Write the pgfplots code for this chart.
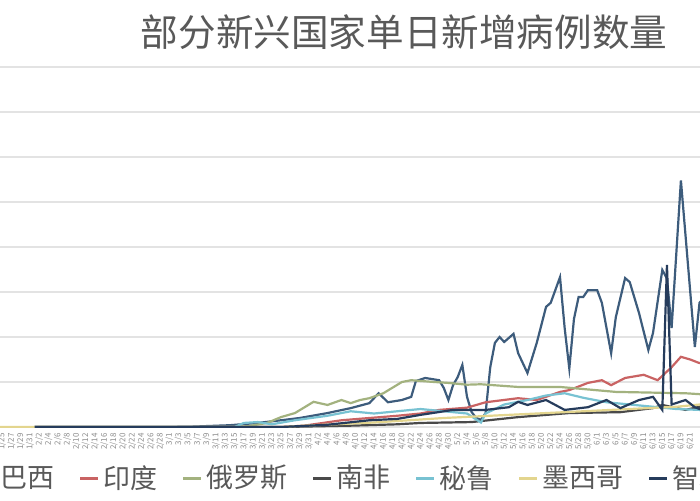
\documentclass[border=0pt]{standalone}
\usepackage{fontspec}
\usepackage{pgfplots}
\pgfplotsset{compat=1.18}
\setmainfont{Noto Sans CJK SC}
\definecolor{cBR}{HTML}{3D5C7C}
\definecolor{cIN}{HTML}{C96363}
\definecolor{cRU}{HTML}{A3B27F}
\definecolor{cZA}{HTML}{4A4A4A}
\definecolor{cPE}{HTML}{78C2D2}
\definecolor{cMX}{HTML}{E3D58E}
\definecolor{cCL}{HTML}{263C5C}
\definecolor{gridc}{HTML}{E3E3E3}
\definecolor{txtc}{HTML}{595959}
\definecolor{tickc}{HTML}{8C8C8C}
\begin{document}
\begin{tikzpicture}
\useasboundingbox (0,0) rectangle (350pt,250pt);
\clip (0,0) rectangle (350pt,250pt);
\begin{axis}[
  at={(-22.25pt,36.5pt)}, anchor=south west,
  scale only axis, width=395.25pt, height=180pt,
  xmin=-10, xmax=160, ymin=0, ymax=80000,
  ytick={0,10000,...,80000}, yticklabels={}, scaled y ticks=false,
  ymajorgrids, major grid style={draw=gridc, line width=0.8pt},
  axis line style={draw=none}, tick style={draw=none},
  xtick={0,2,...,148},
  xticklabels={1/25,1/27,1/29,1/31,
    2/2,2/4,2/6,2/8,2/10,2/12,2/14,2/16,2/18,2/20,2/22,2/24,2/26,2/28,
    3/1,3/3,3/5,3/7,3/9,3/11,3/13,3/15,3/17,3/19,3/21,3/23,3/25,3/27,3/29,3/31,
    4/2,4/4,4/6,4/8,4/10,4/12,4/14,4/16,4/18,4/20,4/22,4/24,4/26,4/28,4/30,
    5/2,5/4,5/6,5/8,5/10,5/12,5/14,5/16,5/18,5/20,5/22,5/24,5/26,5/28,5/30,
    6/1,6/3,6/5,6/7,6/9,6/11,6/13,6/15,6/17,6/19,6/21},
  xticklabel shift=2pt,
  xticklabel style={rotate=90, anchor=east, font=\fontsize{4}{4}\selectfont, text=tickc, inner sep=1pt},
  every axis plot/.append style={line width=1.1pt, no markers},
  legend image code/.code={\draw[#1,line width=1.5pt] (0pt,0pt) -- (9pt,0pt);},
  legend style={at={(0.503,-0.142)}, anchor=center, draw=none, fill=none,
    font=\fontsize{13.5}{15}\selectfont, text=txtc, legend columns=-1,
    /tikz/every even column/.append style={column sep=10pt}},
]
% 巴西
\addplot[cBR] coordinates {(7,0) (32,0) (40,50) (49,400) (55,900) (60,1500) (64,2000) (70,3100) (75,4200) (79,5300) (81,7500) (83,5500) (86,6000) (88,6700) (89,10200) (91,10900) (94,10400) (95,8700) (96,6000) (97,9300) (98,11100) (99,13800) (100,6700) (101,3300) (102,2000) (103,1600) (104,3100) (105,13300) (106,18700) (107,20000) (108,18900) (110,20700) (111,16400) (113,12000) (115,18700) (117,26700) (118,27600) (120,33300) (121,22000) (122,13000) (123,24000) (124,28900) (125,28900) (126,30400) (128,30400) (129,27600) (131,16400) (132,24400) (134,33100) (135,32200) (137,25300) (139,17100) (140,20900) (142,34900) (143,33000) (144,22000) (146,54800) (149,17800) (150,27600) (152,30000)};
\addlegendentry{巴西}
% 印度
\addplot[cIN] coordinates {(7,0) (60,0) (65,300) (73,1500) (79,2000) (85,2500) (90,3000) (94,3800) (100,4300) (104,5500) (111,6400) (115,6000) (120,7800) (122,8200) (126,9800) (129,10400) (131,9300) (134,10900) (138,11600) (141,10400) (144,13300) (146,15600) (148,15000) (150,14200) (152,14500)};
\addlegendentry{印度}
% 俄罗斯
\addplot[cRU] coordinates {(7,0) (50,0) (53,200) (57,900) (60,2200) (63,3100) (67,5600) (70,4900) (73,6000) (75,5300) (77,6000) (79,6400) (82,7500) (86,10000) (88,10400) (93,10000) (96,9800) (100,9400) (103,9500) (111,8900) (120,8900) (132,7800) (147,7500) (150,7300) (152,7200)};
\addlegendentry{俄罗斯}
% 南非
\addplot[cZA] coordinates {(7,0) (60,0) (75,300) (85,600) (90,900) (101,1100) (111,2200) (122,3100) (133,3300) (140,4200) (142,4900) (147,3800) (150,4500) (152,4600)};
\addlegendentry{南非}
% 秘鲁
\addplot[cPE] coordinates {(7,0) (50,0) (52,900) (55,1100) (58,600) (63,1500) (70,2500) (75,3500) (80,3000) (85,3500) (90,4000) (95,3500) (100,3000) (103,1000) (104,3000) (108,5000) (113,6000) (117,7000) (121,7500) (125,6500) (130,5500) (135,5000) (140,4500) (145,4000) (150,3800) (152,3800)};
\addlegendentry{秘鲁}
% 墨西哥
\addplot[cMX] coordinates {(-10,0) (60,0) (65,300) (80,1000) (95,2000) (105,2500) (115,3000) (125,3500) (135,4000) (145,4500) (150,5000) (152,5000)};
\addlegendentry{墨西哥}
% 智利
\addplot[cCL] coordinates {(7,0) (60,0) (70,500) (79,1500) (85,1800) (90,2700) (97,3800) (104,3800) (109,4400) (111,5600) (113,4900) (117,6000) (121,3800) (126,4400) (130,6000) (133,4200) (137,6000) (140,6700) (142,3800) (143,36000) (144,5000) (147,6000) (149,4400) (150,4000) (152,4200)};
\addlegendentry{智利}
\end{axis}
\node[text=txtc, font=\fontsize{18.8}{20}\selectfont] at (202pt,234pt) {部分新兴国家单日新增病例数量};
\end{tikzpicture}
\end{document}
